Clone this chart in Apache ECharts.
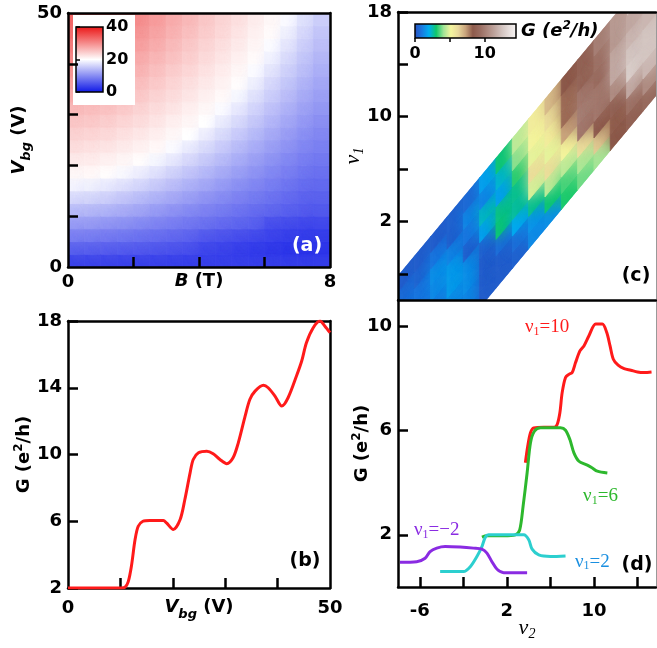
<!DOCTYPE html>
<html><head><meta charset="utf-8">
<script src="https://cdn.jsdelivr.net/npm/echarts@6/dist/echarts.min.js"></script>
<style>html,body{margin:0;padding:0;background:#fff}#c{width:657px;height:648px}</style>
</head><body><div id="c"></div>
<script>
// ---------- Panel (a): G map, B (T) x Vbg (V) ----------
const aB = [0.25,0.75,1.25,1.75,2.25,2.75,3.25,3.75,4.25,4.75,5.25,5.75,6.25,6.75,7.25,7.75];
const aV = [1.25,3.75,6.25,8.75,11.25,13.75,16.25,18.75,21.25,23.75,26.25,28.75,31.25,33.75,36.25,38.75,41.25,43.75,46.25,48.75];
// one column per B value, listed bottom (low Vbg) to top
const aG = [
 [4.2,6.7,9.2,11.6,14.1,16.6,19.1,20.6,21.6,22.7,23.7,24.7,25.7,26.7,27.8,28.8,29.8,30.8,31.8,32.8],
 [4.2,6.6,9.0,11.5,13.9,16.3,18.7,20.5,21.5,22.5,23.4,24.4,25.4,26.4,27.4,28.4,29.4,30.4,31.4,32.4],
 [4.2,6.5,8.8,11.1,13.5,15.8,18.1,20.2,21.1,22.1,23.1,24.0,25.0,25.9,26.9,27.8,28.8,29.8,30.7,31.7],
 [4.1,6.3,8.5,10.7,12.9,15.1,17.3,19.5,20.7,21.6,22.5,23.4,24.3,25.3,26.2,27.1,28.0,28.9,29.8,30.7],
 [4.0,6.1,8.2,10.2,12.3,14.3,16.4,18.5,20.2,21.1,21.9,22.8,23.6,24.5,25.3,26.2,27.0,27.9,28.7,29.6],
 [4.0,5.9,7.8,9.7,11.6,13.5,15.4,17.4,19.3,20.5,21.3,22.1,22.8,23.6,24.4,25.2,26.0,26.8,27.6,28.4],
 [3.9,5.6,7.4,9.2,10.9,12.7,14.5,16.2,18.0,19.7,20.6,21.3,22.1,22.8,23.5,24.2,25.0,25.7,26.4,27.1],
 [3.8,5.4,7.0,8.7,10.3,11.9,13.5,15.1,16.7,18.3,20.0,20.7,21.3,22.0,22.6,23.3,24.0,24.6,25.3,26.0],
 [4.0,4.6,6.0,8.2,9.6,11.1,12.6,14.1,15.5,17.0,18.5,20.0,20.6,21.2,21.8,22.4,23.0,23.6,24.2,24.8],
 [4.0,4.3,5.6,7.7,9.0,10.4,11.7,13.0,14.4,15.7,17.0,18.4,19.7,20.4,21.0,21.5,22.1,22.6,23.2,23.7],
 [4.0,4.0,5.2,7.2,8.4,9.6,10.8,12.0,13.2,14.4,15.6,16.9,18.1,19.3,20.2,20.7,21.2,21.7,22.2,22.7],
 [3.9,3.7,4.8,6.8,7.8,8.9,10.0,11.1,12.1,13.2,14.3,15.4,16.4,17.5,18.6,19.7,20.3,20.8,21.2,21.6],
 [3.9,3.4,4.4,5.3,7.3,8.3,9.2,10.2,11.1,12.1,13.0,14.0,14.9,15.9,16.8,17.8,18.8,19.7,20.3,20.7],
 [3.8,3.2,4.0,5.0,6.8,7.7,8.5,9.4,10.2,11.1,11.9,12.8,13.6,14.5,15.3,16.2,17.0,17.9,18.7,19.6],
 [3.8,3.0,3.8,4.7,6.4,7.1,7.8,8.6,9.3,10.1,10.8,11.6,12.3,13.1,13.8,14.6,15.3,16.0,16.8,17.5],
 [3.7,2.9,3.5,4.4,5.9,6.6,7.3,7.9,8.6,9.2,9.9,10.5,11.2,11.8,12.5,13.2,13.8,14.5,15.1,15.8]
];
const aColors = ['#0a14e6','#ffffff','#eb1414'];
const aMin = 0, aMax = 40;
const aXTicks = [2,4,6], aXLabels = [0,8];
const aYTicks = [10,20,30,40], aYLabels = [0,50];
const aBarLabels = [0,20,40];

// ---------- Panel (b): G vs Vbg ----------
const bV = [0,5,10.2,10.9,11.5,12.1,12.8,13.4,14.3,15.6,17.0,18.2,18.8,20.1,21.4,22.3,23.3,23.9,24.9,26.5,27.7,29.0,30.3,31.5,32.5,33.8,34.7,35.7,37.3,38.2,39.5,40.8,42.0,43.6,44.6,45.5,46.8,48.1,49.0,50];
const bG = [2,2,2,2.05,2.38,3.3,4.9,5.7,6.0,6.05,6.05,6.05,5.9,5.5,6.1,7.3,8.9,9.7,10.1,10.2,10.05,9.7,9.45,9.8,10.7,12.3,13.3,13.8,14.15,14.0,13.5,12.9,13.4,14.7,15.6,16.7,17.6,18.0,17.7,17.3];
const bXTicks = [10,20,30,40], bXLabels = [0,50];
const bYTicks = [2,6,10,14,18], bYLabels = [2,6,10,14,18];

// ---------- Panel (c): G map over nu2 (x) and nu1 (y), along the band nu1 = nu2 + d ----------
const cNu2 = [-7.25,-5.75,-4.25,-2.75,-1.25,0.25,1.75,3.25,4.75,6.25,7.75,9.25,10.75,12.25,13.75,15.25];
const cD = [-3.5,-2.25,-1,0.25,1.5,2.75,4,5.25];
const cG = [
 [null,null,null,null,null,0.9,0.8,0.4],
 [null,null,null,null,1.0,1.0,0.6,0.4],
 [null,null,1.1,1.1,1.4,1.5,1.0,0.4],
 [null,1.2,1.4,1.7,1.7,1.3,0.5,0.5],
 [1.2,1.3,1.5,1.5,0.5,1.0,1.3,0.7],
 [0.4,0.4,0.4,0.5,1.8,2.4,1.3,1.8],
 [0.4,0.4,0.8,3.0,2.9,1.8,2.3,3.0],
 [0.5,0.8,2.0,2.7,2.8,3.3,4.0,4.5],
 [1.4,1.6,2.8,4.8,6.0,5.0,5.2,5.5],
 [1.5,3.0,4.5,6.0,5.0,5.5,6.0,6.8],
 [3.2,3.5,4.5,5.2,7.2,8.0,8.0,8.3],
 [3.8,4.3,6.0,9.8,10.0,9.8,9.0,8.8],
 [4.2,6.5,8.5,9.8,9.8,9.3,9.5,10.0],
 [8.3,8.2,8.8,10.5,11.5,11.5,11.0,11.0],
 [8.8,9.5,11.5,12.8,12.5,12.0,11.5,null],
 [9.2,10.5,12.0,12.5,12.5,12.0,null,null]
];
const cColors = ['#2a4fbf','#1a78e0','#00aef0','#10c86a','#a0e496','#f4f59e','#e9d89c','#c9a47c','#8d5a4b','#9a6d61','#ad897f','#bfa59e','#d3c4c0','#e7dfdd','#f8f6f6'];
const cMin = 0, cMax = 14.5;
const cYTicks = [-2,2,6,10,14,18], cYLabels = [2,10,18];
const cBarTicks = [0,5,10], cBarLabels = [0,10];

// ---------- Panel (d): G vs nu2 for several nu1 ----------
const dRedX = [3.70,3.92,4.17,4.47,5.39,6.32,6.62,6.87,7.08,7.39,7.70,8.00,8.31,8.71,9.08,9.54,10.16,10.77,11.17,11.48,11.78,12.22,12.77,13.38,14.00,14.61,15.29];
const dRedY = [4.76,5.40,5.91,6.10,6.12,6.12,6.23,6.68,7.45,8.03,8.15,8.22,8.60,9.05,9.24,9.63,10.08,10.08,9.76,9.24,8.73,8.50,8.37,8.31,8.24,8.22,8.24];
const dGreenX = [-0.29,0.17,1.71,2.78,3.18,3.49,3.86,4.17,4.53,5.09,6.93,7.39,7.79,8.16,8.62,9.39,9.85,10.31,11.23];
const dGreenY = [1.91,1.96,1.96,2.00,2.19,3.09,4.37,5.53,5.97,6.10,6.10,6.01,5.65,5.14,4.82,4.67,4.56,4.44,4.37];
const dCyanX = [-4.13,-1.98,-1.36,-0.75,-0.29,0.02,0.32,3.55,4.01,4.32,4.93,6.01,7.39];
const dCyanY = [0.59,0.59,0.78,1.17,1.55,1.91,2.00,2.00,1.81,1.45,1.23,1.17,1.19];
const dPurpleX = [-7.82,-6.28,-5.51,-5.05,-4.44,-3.67,-2.29,-1.06,-0.29,0.17,0.63,1.10,1.71,2.94,3.86];
const dPurpleY = [0.95,0.97,1.10,1.36,1.49,1.55,1.53,1.49,1.45,1.30,0.97,0.68,0.55,0.55,0.55];
const dNames = ['10','6','2','\u22122'];
const dColors = ['#ff1a1a','#2db82d','#2ccfcf','#8a2be2'];
const dTextColors = ['#ff1a1a','#2db82d','#1a8fe0','#8a2be2'];
const dLabelAt = [[5.7,9.95],[10.6,3.47],[9.85,0.97],[-4.44,2.19]];
const dXMin = -8, dXMax = 15.7, dYMin = 0, dYMax = 11;
const dXTicks = [-6,-2,2,6,10,14], dXLabels = [-6,2,10];
const dYTicks = [2,6,10], dYLabels = [2,6,10];

// ---------- styling ----------
const FS = 'DejaVu Sans', SERIF = 'Liberation Serif';
const LW = 2.5;
const lbl = {color:'#000', fontFamily:FS, fontWeight:'bold', fontSize:18};
const richSans = {
  n:{fontFamily:FS, fontWeight:'bold', fontSize:18, color:'#000', verticalAlign:'middle'},
  i:{fontFamily:FS, fontWeight:'bold', fontStyle:'italic', fontSize:18, color:'#000', verticalAlign:'middle'},
  s:{fontFamily:FS, fontWeight:'bold', fontStyle:'italic', fontSize:13, color:'#000', padding:[14,0,0,0], verticalAlign:'bottom'},
  p:{fontFamily:FS, fontWeight:'bold', fontSize:12, color:'#000', padding:[0,0,10,0], verticalAlign:'top'}
};
const richNu = {
  i:{fontFamily:SERIF, fontStyle:'italic', fontSize:22, color:'#000', verticalAlign:'middle'},
  s:{fontFamily:SERIF, fontStyle:'italic', fontSize:14, color:'#000', padding:[12,0,0,0], verticalAlign:'bottom'}
};
function frame(o, color, width){ // plain frame line
  return Object.assign({type:'value', axisLine:{show:true, onZero:false, lineStyle:{color:color||'#000', width:width||LW}},
    axisTick:{show:false}, axisLabel:{show:false}, splitLine:{show:false}, z:10}, o);
}
function main(o, ticks, labels, margin){
  return Object.assign({type:'value', nameMoveOverlap:false, axisLine:{show:true, onZero:false, lineStyle:{color:'#000', width:LW}},
    axisTick:{show:true, inside:true, length:10, lineStyle:{color:'#000', width:LW}, customValues:ticks},
    axisLabel:Object.assign({}, lbl, {margin:margin, customValues:labels}),
    splitLine:{show:false}, z:10}, o);
}

const aData = [];
aB.forEach((b,i)=>aV.forEach((v,j)=>aData.push([b, v, aG[i][j]])));
const aHB = (aB[1]-aB[0])/2, aHV = (aV[1]-aV[0])/2;
const cData = [];
cNu2.forEach((x,i)=>cD.forEach((d,j)=>{ if (cG[i][j]!=null) cData.push([x, d, cG[i][j]]); }));
const cHX = (cNu2[1]-cNu2[0])/2, cHD = (cD[1]-cD[0])/2;
const cX0 = cNu2[0]-cHX, cX1 = cNu2[cNu2.length-1]+cHX;
const cDLo = cD[0]-cHD, cDHi = cD[cD.length-1]+cHD;

function stops(cols){ return cols.map((c,i)=>({offset:i/(cols.length-1), color:c})); }
const pair = (xs, ys) => xs.map((x,i)=>[x, ys[i]]);

const option = {
  animation:false,
  backgroundColor:'#fff',
  grid:[
    {left:68, top:13, width:262, height:254},
    {left:68, top:321, width:262, height:267},
    {left:398, top:12, width:258, height:288},
    {left:398, top:300, width:258, height:287},
    {left:76, top:27, width:27, height:65},
    {left:415, top:24, width:101, height:14}
  ],
  xAxis:[
    main({gridIndex:0, min:0, max:8, position:'bottom', name:'{i|B}{n| (T)}', nameLocation:'middle', nameGap:5, nameTextStyle:{rich:richSans}}, aXTicks, aXLabels, 6),
    frame({gridIndex:0, min:0, max:8, position:'top'}),
    main({gridIndex:1, min:0, max:50, position:'bottom', name:'{i|V}{s|bg}{n| (V)}', nameLocation:'middle', nameGap:6, nameTextStyle:{rich:richSans}}, bXTicks, bXLabels, 11),
    frame({gridIndex:1, min:0, max:50, position:'top'}),
    frame({gridIndex:2, min:dXMin, max:dXMax, position:'bottom'}),
    frame({gridIndex:2, min:dXMin, max:dXMax, position:'top'}),
    main({gridIndex:3, min:dXMin, max:dXMax, position:'bottom', name:'{i|\u03bd}{s|2}', nameLocation:'middle', nameGap:28, nameTextStyle:{rich:richNu}}, dXTicks, dXLabels, 15),
    {gridIndex:4, type:'value', min:0, max:1, show:false},
    {gridIndex:5, type:'value', min:cMin, max:cMax, position:'bottom', axisLine:{show:false},
      axisTick:{show:true, inside:false, length:4, lineStyle:{color:'#000', width:1.5}, customValues:cBarTicks},
      axisLabel:Object.assign({}, lbl, {fontSize:16, margin:8, customValues:cBarLabels}), splitLine:{show:false}, z:10}
  ],
  yAxis:[
    main({gridIndex:0, min:0, max:50, position:'left', name:'{i|V}{s|bg}{n| (V)}', nameLocation:'middle', nameRotate:90, nameGap:35, nameTextStyle:{rich:richSans}}, aYTicks, aYLabels, 6),
    frame({gridIndex:0, min:0, max:50, position:'right'}),
    main({gridIndex:1, min:2, max:18, position:'left', name:'{n|G (e}{p|2}{n|/h)}', nameLocation:'middle', nameRotate:90, nameGap:33, nameTextStyle:{rich:richSans}}, bYTicks, bYLabels, 6),
    frame({gridIndex:1, min:2, max:18, position:'right'}),
    main({gridIndex:2, min:-4, max:18, position:'left', name:'{i|\u03bd}{s|1}', nameLocation:'middle', nameRotate:90, nameGap:32, nameTextStyle:{rich:richNu}}, cYTicks, cYLabels, 6),
    frame({gridIndex:2, min:-4, max:18, position:'right'}, '#999', 1),
    main({gridIndex:3, min:dYMin, max:dYMax, position:'left', name:'{n|G (e}{p|2}{n|/h)}', nameLocation:'middle', nameRotate:90, nameGap:25, nameTextStyle:{rich:richSans}}, dYTicks, dYLabels, 6),
    frame({gridIndex:3, min:dYMin, max:dYMax, position:'right'}, '#999', 1),
    {gridIndex:4, type:'value', min:aMin, max:aMax, position:'right', axisLine:{show:false},
      axisTick:{show:true, inside:false, length:4, lineStyle:{color:'#000', width:1.5}, customValues:aBarLabels},
      axisLabel:Object.assign({}, lbl, {fontSize:16, margin:3, customValues:aBarLabels}), splitLine:{show:false}, z:10},
    {gridIndex:5, type:'value', min:0, max:1, show:false}
  ],
  visualMap:[
    {type:'continuous', show:false, seriesIndex:0, dimension:2, min:aMin, max:aMax, inRange:{color:aColors}},
    {type:'continuous', show:false, seriesIndex:2, dimension:2, min:cMin, max:cMax, inRange:{color:cColors}}
  ],
  series:[
    {type:'custom', xAxisIndex:0, yAxisIndex:0, clip:true, z:1, data:aData,
      renderItem:(p, api)=>{
        const b = api.value(0), v = api.value(1);
        const p0 = api.coord([b-aHB, v+aHV]), p1 = api.coord([b+aHB, v-aHV]);
        const c = api.visual('color');
        return {type:'rect', shape:{x:p0[0], y:p0[1], width:p1[0]-p0[0], height:p1[1]-p0[1]},
          style:{fill:c, stroke:c, lineWidth:0.8, shadowBlur:13, shadowColor:c}};
      }},
    {type:'line', xAxisIndex:2, yAxisIndex:2, data:pair(bV,bG), showSymbol:false, smooth:0.3, z:11,
      lineStyle:{color:'#ff1a1a', width:3}},
    {type:'custom', xAxisIndex:4, yAxisIndex:4, clip:true, z:1, data:cData,
      renderItem:(p, api)=>{
        const x = api.value(0), d = api.value(1);
        const pts = [[x-cHX, x-cHX+d-cHD],[x+cHX, x+cHX+d-cHD],[x+cHX, x+cHX+d+cHD],[x-cHX, x-cHX+d+cHD]].map(q=>api.coord(q));
        const band = [[cX0, cX0+cDLo],[cX1, cX1+cDLo],[cX1, cX1+cDHi],[cX0, cX0+cDHi]].map(q=>api.coord(q));
        const c = api.visual('color');
        return {type:'polygon', shape:{points:pts}, style:{fill:c, stroke:c, lineWidth:0.8, shadowBlur:12, shadowColor:c},
          clipPath:{type:'polygon', shape:{points:band}}};
      }},
    {type:'line', xAxisIndex:6, yAxisIndex:6, data:pair(dRedX,dRedY), showSymbol:false, smooth:0.3, lineStyle:{color:dColors[0], width:3}},
    {type:'line', xAxisIndex:6, yAxisIndex:6, data:pair(dGreenX,dGreenY), showSymbol:false, smooth:0.3, lineStyle:{color:dColors[1], width:3}},
    {type:'line', xAxisIndex:6, yAxisIndex:6, data:pair(dCyanX,dCyanY), showSymbol:false, smooth:0.3, lineStyle:{color:dColors[2], width:3}},
    {type:'line', xAxisIndex:6, yAxisIndex:6, data:pair(dPurpleX,dPurpleY), showSymbol:false, smooth:0.3, lineStyle:{color:dColors[3], width:3}},
    {type:'custom', xAxisIndex:7, yAxisIndex:8, z:5, data:[[0,0]],
      renderItem:(p, api)=>{
        const a = api.coord([0,aMin]), b = api.coord([1,aMax]);
        return {type:'rect', shape:{x:a[0], y:b[1], width:b[0]-a[0], height:a[1]-b[1]},
          style:{fill:new echarts.graphic.LinearGradient(0,1,0,0, stops(aColors)), stroke:'#000', lineWidth:1.5}};
      }},
    {type:'custom', xAxisIndex:8, yAxisIndex:9, z:5, data:[[0,0]],
      renderItem:(p, api)=>{
        const a = api.coord([cMin,0]), b = api.coord([cMax,1]);
        return {type:'rect', shape:{x:a[0], y:b[1], width:b[0]-a[0], height:a[1]-b[1]},
          style:{fill:new echarts.graphic.LinearGradient(0,0,1,0, stops(cColors)), stroke:'#000', lineWidth:1.5}};
      }}
  ]
};
const chart = echarts.init(document.getElementById('c'));
chart.setOption(option);

function txt(id, x, y, text, fill){
  return {id:id, type:'text', x:x, y:y, z:20,
    style:{text:text, fill:fill, font:'bold 19px "DejaVu Sans"', align:'center', verticalAlign:'middle', textAlign:'center', textVerticalAlign:'middle'}};
}
const els = [
  {id:'box', type:'rect', z:3, shape:{x:73, y:15, width:62, height:90}, style:{fill:'#fff'}},
  txt('la', 307, 246, '(a)', '#fff'),
  txt('lb', 305, 561, '(b)', '#000'),
  txt('lc', 636, 276, '(c)', '#000'),
  txt('ld', 637, 565, '(d)', '#000'),
  {id:'cbt', type:'text', x:521, y:31, z:20, style:{text:'{i|G (e}{p|2}{i|/h)}', rich:{
     i:{fontFamily:FS, fontWeight:'bold', fontStyle:'italic', fontSize:18, fill:'#000', verticalAlign:'middle'},
     p:{fontFamily:FS, fontWeight:'bold', fontStyle:'italic', fontSize:12, fill:'#000', padding:[0,0,10,0], verticalAlign:'top'}},
     align:'left', verticalAlign:'middle', textAlign:'left', textVerticalAlign:'middle'}}
];
dLabelAt.forEach((c,k)=>{
  const px = chart.convertToPixel({xAxisIndex:6, yAxisIndex:6}, c);
  els.push({id:'dl'+k, type:'text', x:px[0], y:px[1], z:20, style:{text:'{n|\u03bd}{s|1}{n|='+dNames[k]+'}', rich:{
      n:{fontFamily:SERIF, fontSize:19, fill:dTextColors[k], verticalAlign:'middle'},
      s:{fontFamily:SERIF, fontSize:12, fill:dTextColors[k], padding:[9,0,0,0], verticalAlign:'bottom'}},
    align:'center', verticalAlign:'middle', textAlign:'center', textVerticalAlign:'middle'}});
});
chart.setOption({graphic:{elements:els}});
</script></body></html>
